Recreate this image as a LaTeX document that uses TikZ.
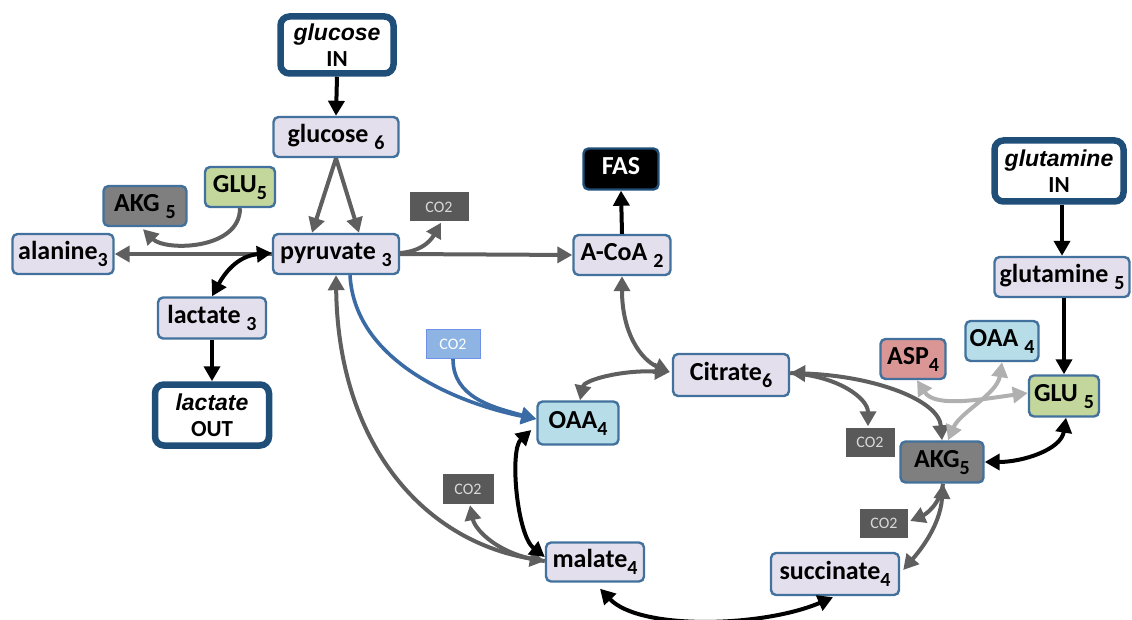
\documentclass[tikz,border=0pt]{standalone}
\usepackage{fontspec}
\setmainfont{Carlito}
\newfontfamily\arialf{Liberation Sans}
\usetikzlibrary{arrows.meta,calc}

\definecolor{lav}{HTML}{E4DFEC}
\definecolor{edgeblue}{HTML}{41719C}
\definecolor{ioblue}{HTML}{1F4E79}
\definecolor{akggray}{HTML}{7F7F7F}
\definecolor{glugreen}{HTML}{C3D69B}
\definecolor{oaacyan}{HTML}{B7DDE8}
\definecolor{asppink}{HTML}{DA9694}
\definecolor{cogray}{HTML}{595959}
\definecolor{coblue}{HTML}{8DB4E2}
\definecolor{arrgray}{HTML}{5F5F5F}
\definecolor{lightarr}{HTML}{B0B0B0}
\definecolor{bluearr}{HTML}{3B6BA5}

% lowered index digit that does not change the box height
\newcommand\lsub[1]{\raisebox{-7pt}[0pt][0pt]{\fontsize{20}{20}\selectfont #1}}

\tikzset{
  >={Triangle[length=15pt,width=16pt]},
  met/.style={draw=edgeblue, line width=2.4pt, rounded corners=5pt, fill=lav,
    inner sep=0pt, text height=16pt, text depth=5pt,
    font=\fontsize{26}{28}\selectfont\bfseries},
  io/.style={draw=ioblue, line width=6.5pt, rounded corners=9pt, fill=white,
    inner sep=0pt, align=center, font=\fontsize{23}{26}\selectfont\bfseries},
  co2/.style={fill=cogray, text=white!85!black, inner sep=0pt,
    font=\fontsize{16}{16}\selectfont},
  co2b/.style={fill=coblue, draw=coblue!80!blue, line width=1pt, text=white,
    inner sep=0pt, font=\fontsize{16}{16}\selectfont},
  garr/.style={draw=arrgray, line width=4pt},
  karr/.style={draw=black, line width=4pt},
  barr/.style={draw=bluearr, line width=3.6pt},
  larr/.style={draw=lightarr, line width=4pt},
}

\begin{document}
\begin{tikzpicture}[x=1pt,y=-1pt]
\useasboundingbox (0,0) rectangle (1132,620);

% ---- inputs and outputs
\node[io, minimum width=113, minimum height=57] (gin) at (337,45)
  {{\arialf\itshape\bfseries glucose}\\IN};
\node[io, minimum width=129, minimum height=61] (ginq) at (1059,171)
  {{\arialf\itshape\bfseries glutamine}\\IN};
\node[io, minimum width=114, minimum height=61] (lout) at (212,415)
  {{\arialf\itshape\bfseries lactate}\\OUT};

% ---- metabolites
\node[met, minimum width=125, minimum height=40] (glc) at (336,137) {glucose \lsub{6}};
\node[met, fill=akggray, minimum width=83, minimum height=40] (akgL) at (145,206) {AKG \lsub{5}};
\node[met, fill=glugreen, minimum width=70, minimum height=40] (gluL) at (240,187) {GLU\lsub{5}};
\node[met, minimum width=101, minimum height=40] (ala) at (63,254) {alanine\lsub{3}};
\node[met, minimum width=126, minimum height=40] (pyr) at (336,254) {pyruvate \lsub{3}};
\node[met, fill=black, draw=ioblue, text=white, minimum width=75, minimum height=41] (fas) at (621,169) {FAS};
\node[met, minimum width=97, minimum height=40] (acoa) at (622,255) {A-CoA \lsub{2}};
\node[met, minimum width=135, minimum height=40] (glnq) at (1062,277) {glutamine \lsub{5}};
\node[met, minimum width=108, minimum height=41] (lac) at (212,318) {lactate \lsub{3}};
\node[met, minimum width=116, minimum height=42] (cit) at (731,375) {Citrate\lsub{6}};
\node[met, fill=asppink, minimum width=65, minimum height=40] (asp) at (913,359) {ASP\lsub{4}};
\node[met, fill=oaacyan, minimum width=73, minimum height=40] (oaaR) at (1002,341) {OAA \lsub{4}};
\node[met, fill=glugreen, minimum width=70, minimum height=41] (gluR) at (1064,396) {GLU \lsub{5}};
\node[met, fill=oaacyan, minimum width=81, minimum height=43] (oaa) at (578,423) {OAA\lsub{4}};
\node[met, fill=akggray, minimum width=83, minimum height=41] (akgR) at (942,462) {AKG\lsub{5}};
\node[met, minimum width=98, minimum height=39] (mal) at (595,562) {malate\lsub{4}};
\node[met, minimum width=128, minimum height=42] (succ) at (835,574) {succinate\lsub{4}};

% ---- carbon dioxide
\node[co2, minimum width=59, minimum height=29] (co2a) at (439,207) {CO2};
\node[co2b, minimum width=54, minimum height=29] (co2bl) at (453,344) {CO2};
\node[co2, minimum width=49, minimum height=29] (co2d) at (870,442) {CO2};
\node[co2, minimum width=51, minimum height=30] (co2c) at (468,489) {CO2};
\node[co2, minimum width=48, minimum height=29] (co2e) at (884,523) {CO2};

% ---- uptake, glycolysis and export
\draw[karr,->] (gin.south) -- (glc.north);
\draw[garr,->] (glc.south) -- ($(pyr.north)+(-24,0)$);
\draw[garr,->] (glc.south) -- ($(pyr.north)+(23,0)$);
\draw[garr,->] (pyr.west) -- (ala.east);
\draw[garr,->] (gluL.south) .. controls +(0,42) and +(22,22) .. ($(akgL.south)+(-2,2)$);
\draw[karr,<->] ($(pyr.west)+(0,-1)$) .. controls +(-35,3) and +(12,-22) .. (lac.north);
\draw[karr,->] (lac.south) -- (lout.north);
\draw[garr,->] ($(pyr.east)+(0,-1)$) .. controls +(25,-2) and +(-8,14) .. ($(co2a.south)+(2,1)$);
\draw[garr,->] (pyr.east) -- (acoa.west);
\draw[karr,->] (acoa.north) -- (fas.south);

% ---- pyruvate carboxylation and malic enzyme
\draw[barr,->] ($(pyr.south)+(14,0)$) .. controls (355,365) and (465,405) .. ($(oaa.west)+(0,-4)$);
\draw[barr,->] (co2bl.south) .. controls +(0,38) and +(-45,-12) .. ($(oaa.west)+(0,-4)$);
\draw[garr,<->] (pyr.south) .. controls (338,440) and (420,540) .. ($(mal.west)+(0,-1)$);
\draw[garr,->] ($(mal.west)+(0,-1)$) .. controls +(-45,-5) and +(5,25) .. ($(co2c.south)+(2,1)$);
\draw[karr,<->] ($(oaa.west)+(-5,7)$) .. controls +(-22,20) and +(-28,-22) .. ($(mal.west)+(0,-5)$);

% ---- TCA cycle
\draw[garr,<->] (acoa.south) .. controls +(0,58) and +(-28,-12) .. ($(cit.west)+(-2,-3)$);
\draw[garr,<->] ($(cit.west)+(-2,-3)$) .. controls +(-50,-2) and +(4,-20) .. ($(oaa.north)+(2,0)$);
\draw[garr,->] ($(cit.east)+(0,-2)$) .. controls +(48,3) and +(0,-28) .. ($(co2d.north)+(-2,-1)$);
\draw[garr,<->] ($(cit.east)+(0,-2)$) .. controls +(85,3) and +(-3,-40) .. (akgR.north);
\draw[garr,<->] ($(akgR.south)+(1,0)$) .. controls +(-3,45) and +(12,-14) .. ($(succ.east)+(3,-4)$);
\draw[garr,->] ($(akgR.south)+(1,0)$) .. controls +(-3,22) and +(14,-6) .. ($(co2e.east)+(2,-2)$);
\draw[karr,<->] ($(mal.south)+(5,6)$) .. controls +(40,42) and +(-70,30) .. ($(succ.south)+(-2,1)$);

% ---- glutamine entry and transamination
\draw[karr,->] (glnq.north |- ginq.south) -- (glnq.north);
\draw[karr,->] (glnq.south -| gluR) -- (gluR.north);
\draw[karr,<->] ($(gluR.south)+(2,0)$) .. controls +(-5,32) and +(38,0) .. (akgR.east);
\draw[larr,<->] ($(asp.south)+(4,0)$) .. controls +(18,28) and +(-45,6) .. ($(gluR.west)+(0,-3)$);
\draw[larr,<->] (oaaR.south) .. controls +(-5,32) and +(12,-28) .. ($(akgR.north)+(6,0)$);
\end{tikzpicture}
\end{document}
